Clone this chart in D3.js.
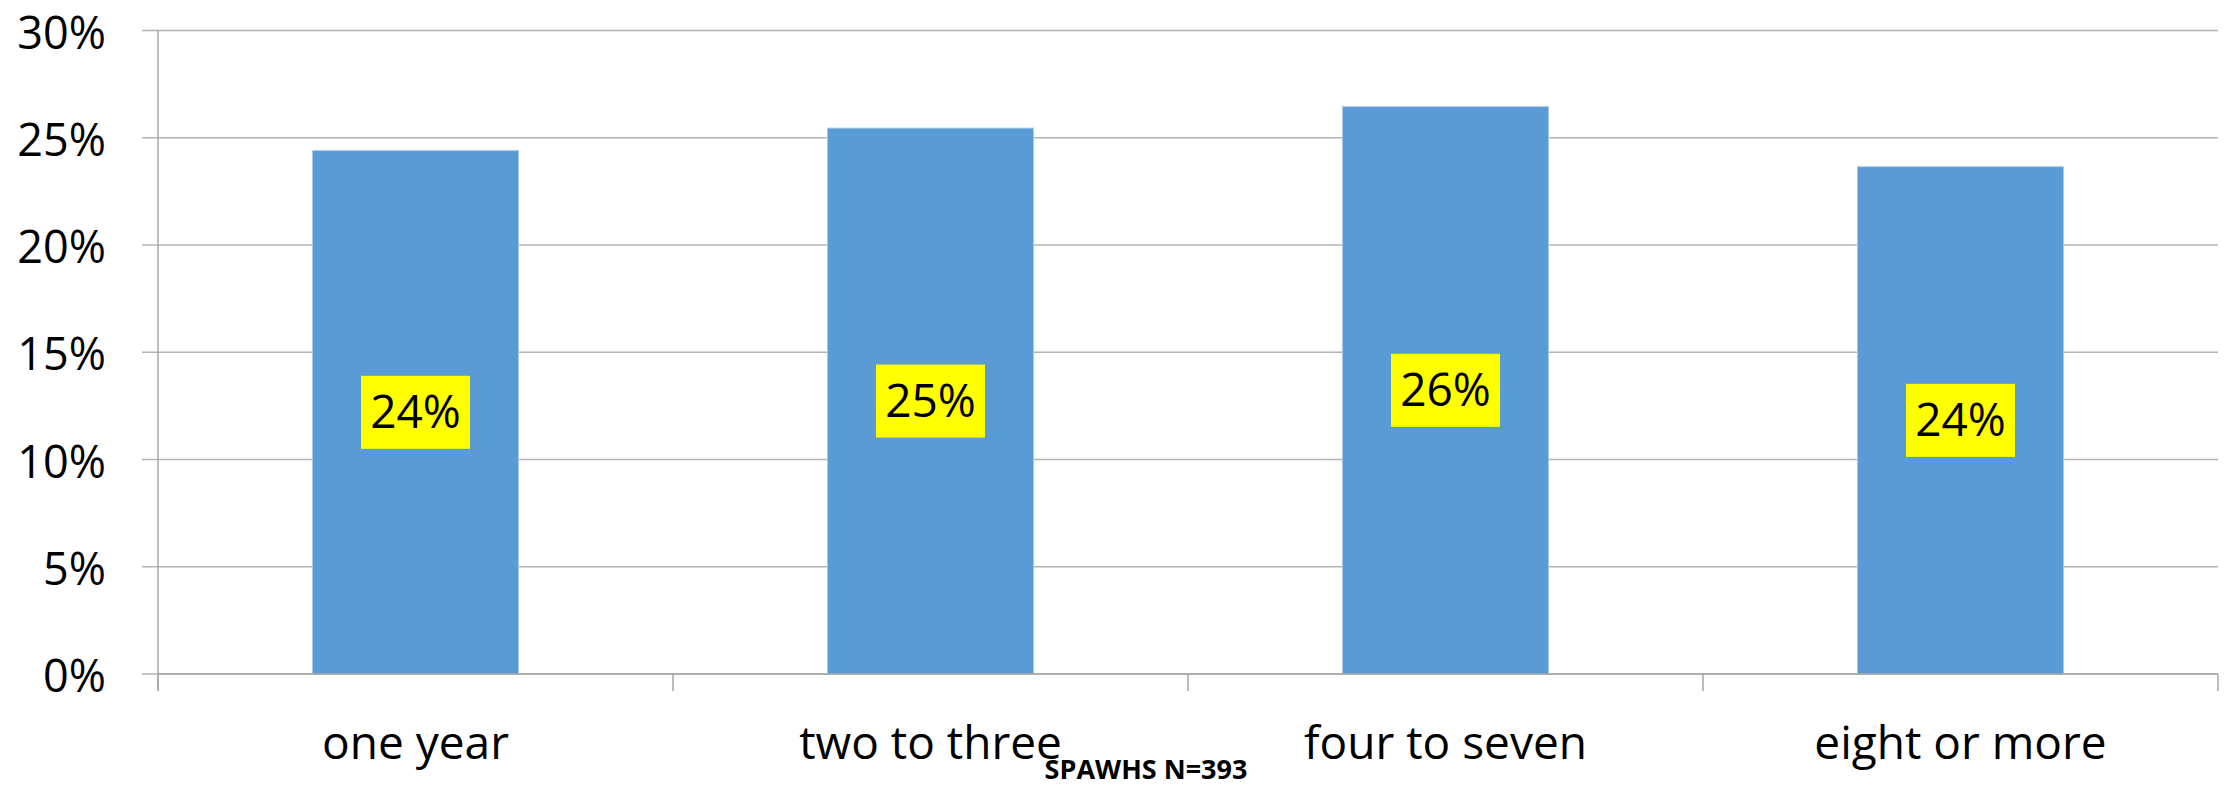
<!DOCTYPE html>
<html><head><meta charset="utf-8">
<script src="https://cdn.jsdelivr.net/npm/d3@7"></script>
<style>
html,body{margin:0;padding:0;background:#fff;}
svg{display:block;font-family:"Open Sans",sans-serif;}
</style></head>
<body>
<svg id="c" width="2226" height="787"></svg>
<script>
const categories = ["one year", "two to three", "four to seven", "eight or more"];
const values = [24.4, 25.45, 26.45, 23.65];
const valueLabels = ["24%", "25%", "26%", "24%"];
const yTicks = [0, 5, 10, 15, 20, 25, 30];
const footnote = "SPAWHS N=393";

(function () {
const svg = d3.select("#c");
const pLeft = 158, pRight = 2218, pTop = 30.5, pBottom = 674;

const x = d3.scaleBand().domain(categories).range([pLeft, pRight]).paddingInner(0).paddingOuter(0);
const y = d3.scaleLinear().domain([0, 30]).range([pBottom, pTop]);
const barW = x.bandwidth() * 0.4;

// gridlines
svg.append("g").selectAll("line").data(yTicks).join("line")
  .attr("x1", pLeft - 16).attr("x2", pRight)
  .attr("y1", d => y(d)).attr("y2", d => y(d))
  .attr("stroke", "#b4b4b4").attr("stroke-width", 1.5);

// y axis line
svg.append("line").attr("x1", pLeft).attr("x2", pLeft).attr("y1", pTop).attr("y2", pBottom + 17)
  .attr("stroke", "#a6a6a6").attr("stroke-width", 1.5);

// x axis ticks at band boundaries
const bounds = categories.map(c => x(c)).concat([pRight]);
svg.append("g").selectAll("line").data(bounds).join("line")
  .attr("x1", d => d).attr("x2", d => d).attr("y1", pBottom).attr("y2", pBottom + 17)
  .attr("stroke", "#a6a6a6").attr("stroke-width", 1.5);

// y tick labels
svg.append("g").selectAll("text").data(yTicks).join("text")
  .attr("x", pLeft - 52).attr("y", d => y(d)).attr("dy", "0.40em")
  .attr("text-anchor", "end").attr("font-size", 45).attr("fill", "#000")
  .text(d => d + "%");

// bars
svg.append("g").selectAll("rect").data(values).join("rect")
  .attr("x", (d, i) => x(categories[i]) + (x.bandwidth() - barW) / 2)
  .attr("width", barW)
  .attr("y", d => y(d)).attr("height", d => pBottom - y(d))
  .attr("fill", "#5b9bd5").attr("stroke", "#a9c8e8").attr("stroke-width", 1);

// x axis baseline
svg.append("line").attr("x1", pLeft).attr("x2", pRight).attr("y1", pBottom).attr("y2", pBottom)
  .attr("stroke", "#a6a6a6").attr("stroke-width", 1.5);

// value labels
const lbl = svg.append("g").selectAll("g").data(values).join("g")
  .attr("transform", (d, i) => `translate(${x(categories[i]) + x.bandwidth() / 2},${(y(d) + pBottom) / 2})`);
lbl.append("rect").attr("x", -54.5).attr("y", -36.5).attr("width", 109).attr("height", 73).attr("fill", "#ffff00");
lbl.append("text").attr("text-anchor", "middle").attr("dy", "0.35em").attr("font-size", 46).attr("fill", "#000")
  .text((d, i) => valueLabels[i]);

// category labels
svg.append("g").selectAll("text").data(categories).join("text")
  .attr("x", d => x(d) + x.bandwidth() / 2).attr("y", 759)
  .attr("text-anchor", "middle").attr("font-size", 46).attr("fill", "#000")
  .text(d => d);

// footnote
svg.append("text").attr("x", 1146).attr("y", 779).attr("text-anchor", "middle")
  .attr("font-size", 27).attr("font-weight", "bold").attr("fill", "#000").text(footnote);
})();
</script>
</body></html>
